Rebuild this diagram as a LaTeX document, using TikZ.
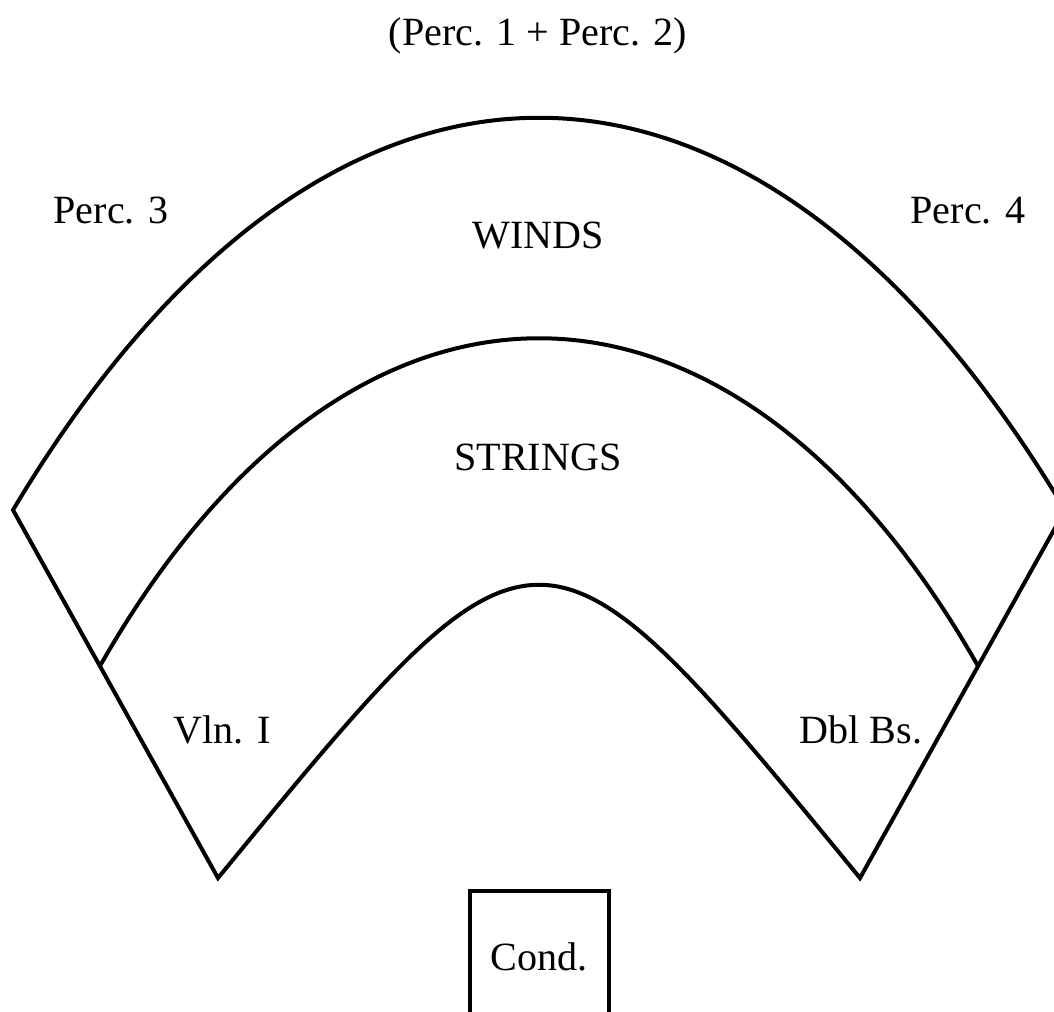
\documentclass[tikz,border=0pt]{standalone}
\usepackage{fontspec}
\setmainfont{Liberation Serif}
\usetikzlibrary{positioning}

\begin{document}
\begin{tikzpicture}[x=0.01cm,y=-0.01cm]

\tikzset{seat/.style = {anchor=base,inner sep=0pt,font=\fontsize{11.4}{13}\selectfont}}
\tikzset{stage/.style = {line width=1.14pt,line join=miter}}
\clip (0,0) rectangle (1054,1011);
% corners
\coordinate (ol) at (13,510);
\coordinate (or) at (1065,510);
\coordinate (ml) at (100,666);
\coordinate (mr) at (978,666);
\coordinate (il) at (218,878);
\coordinate (ir) at (860,878);
\coordinate (cl) at (470,1030);
\coordinate (cr) at (609,1030);
\coordinate (ct) at (539,891);
% labels
\node[seat] (perc12) at (538,45) {(Perc. 1 + Perc. 2)};
\node[seat] (perc3) at (111,223) {Perc. 3};
\node[seat] (perc4) at (968,223) {Perc. 4};
\node[seat] (winds) at (538,248) {WINDS};
\node[seat] (strings) at (538,470) {STRINGS};
\node[seat] (vln) at (222,743) {Vln. I};
\node[seat] (dbl) at (861,743) {Dbl Bs.};
\node[seat] (cond) at (539,970) {Cond.};
% arcs
\draw[stage] (il) -- (ol) .. controls (325,-13) and (753,-13) .. (or)
  -- (ir) .. controls (539,487) and (539,487) .. (il) -- cycle;
\draw[stage] (ml) .. controls (348,229) and (730,229) .. (mr);
\draw[stage] (cl) |- (ct) -| (cr);
\end{tikzpicture}
\end{document}
